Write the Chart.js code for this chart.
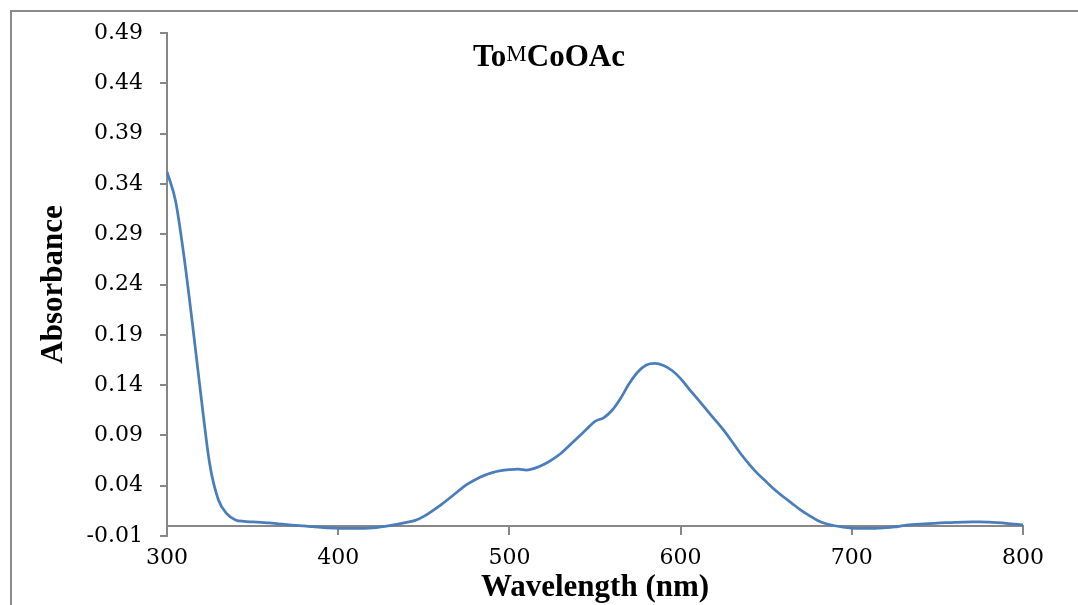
<!DOCTYPE html>
<html>
<head>
<meta charset="utf-8">
<script src="https://cdn.jsdelivr.net/npm/chart.js@4/dist/chart.umd.min.js"></script>
<style>
  html, body { margin: 0; padding: 0; background: #fff; overflow: hidden; }
  canvas { display: block; }
</style>
</head>
<body>
<canvas id="spectrum" width="1078" height="640"></canvas>
<script>
// wavelength (nm) and absorbance
const wavelengths = [
    300, 305, 310, 315, 320, 325, 330, 335, 340, 345,
    350, 355, 360, 365, 370, 375, 380, 385, 390, 395,
    400, 405, 410, 415, 420, 425, 430, 435, 440, 445,
    450, 455, 460, 465, 470, 475, 480, 485, 490, 495,
    500, 505, 510, 515, 520, 525, 530, 535, 540, 545,
    550, 555, 560, 565, 570, 575, 580, 585, 590, 595,
    600, 605, 610, 615, 620, 625, 630, 635, 640, 645,
    650, 655, 660, 665, 670, 675, 680, 685, 690, 695,
    700, 705, 710, 715, 720, 725, 730, 735, 740, 745,
    750, 755, 760, 765, 770, 775, 780, 785, 790, 795,
    800
];
const absorbance = [
    0.352, 0.323, 0.267, 0.199, 0.127, 0.061, 0.026, 0.012, 0.006, 0.0045,
    0.004, 0.0035, 0.003, 0.002, 0.0012, 0.0005, 0.0, -0.0008, -0.0014, -0.002,
    -0.0023, -0.0025, -0.0025, -0.0024, -0.002, -0.001, 0.0003, 0.0018, 0.0035, 0.0055,
    0.0095, 0.015, 0.021, 0.0275, 0.0345, 0.041, 0.046, 0.05, 0.053, 0.055,
    0.056, 0.0565, 0.0556, 0.0575, 0.061, 0.066, 0.072, 0.08, 0.088, 0.096,
    0.104, 0.1075, 0.115, 0.127, 0.1415, 0.153, 0.16, 0.1615, 0.1595, 0.1545,
    0.1465, 0.136, 0.126, 0.1158, 0.1057, 0.0955, 0.084, 0.072, 0.0615, 0.052,
    0.044, 0.036, 0.029, 0.0225, 0.016, 0.0105, 0.0055, 0.0022, 0.0002, -0.0013,
    -0.0022, -0.0025, -0.0025, -0.0022, -0.0018, -0.001, 0.0003, 0.0012, 0.0019, 0.0024,
    0.0028, 0.0032, 0.0035, 0.0038, 0.004, 0.004, 0.0037, 0.0032, 0.0026, 0.0018,
    0.001
];
const xTicks = [300, 400, 500, 600, 700, 800];
const yTicks = [-0.01, 0.04, 0.09, 0.14, 0.19, 0.24, 0.29, 0.34, 0.39, 0.44, 0.49];

const AXIS_GRAY = "#878787";
const TICK_FONT = { family: "'DejaVu Serif', serif", size: 22 };
const TITLE_FONT = { family: "'Liberation Serif', 'Times New Roman', serif", size: 31, weight: "bold" };

// outer frame of the chart (only left and top edges are visible)
const framePlugin = {
    id: "frame",
    beforeDraw(chart) {
        const ctx = chart.ctx;
        ctx.save();
        ctx.strokeStyle = "#8c8c8c";
        ctx.lineWidth = 2;
        ctx.beginPath();
        ctx.moveTo(11, chart.height);
        ctx.lineTo(11, 11);
        ctx.lineTo(chart.width, 11);
        ctx.stroke();
        ctx.restore();
    }
};

// "ToMCoOAc" with superscript M
const titlePlugin = {
    id: "compoundTitle",
    afterDraw(chart) {
        const ctx = chart.ctx;
        ctx.save();
        ctx.fillStyle = "#000";
        ctx.textBaseline = "alphabetic";
        ctx.textAlign = "left";
        let x = 473;
        const base = 66;
        ctx.font = "bold 31px 'Liberation Serif', 'Times New Roman', serif";
        ctx.fillText("To", x, base);
        x += ctx.measureText("To").width;
        ctx.font = "23px 'Liberation Serif', 'Times New Roman', serif";
        ctx.fillText("M", x, base - 5);
        x += ctx.measureText("M").width;
        ctx.font = "bold 31px 'Liberation Serif', 'Times New Roman', serif";
        ctx.fillText("CoOAc", x, base);
        ctx.restore();
    }
};

new Chart(document.getElementById("spectrum"), {
    type: "line",
    data: {
        datasets: [{
            data: wavelengths.map((w, i) => ({ x: w, y: absorbance[i] })),
            borderColor: "#4a7ebb",
            borderWidth: 2.75,
            pointRadius: 0,
            fill: false,
            cubicInterpolationMode: "monotone"
        }]
    },
    options: {
        responsive: false,
        animation: false,
        // the x axis sits at y = 0 and takes no layout room, so reserve it here
        layout: { padding: { top: 33, right: 55, bottom: 104, left: 0 } },
        plugins: {
            legend: { display: false },
            title: { display: false },
            tooltip: { enabled: false }
        },
        scales: {
            x: {
                type: "linear",
                position: { y: 0 },
                min: 300,
                max: 800,
                afterBuildTicks: scale => { scale.ticks = xTicks.map(v => ({ value: v })); },
                afterFit: scale => { scale.height = 81; },
                grid: { drawOnChartArea: false, drawTicks: true, tickLength: 8, color: AXIS_GRAY, lineWidth: 2 },
                border: { display: true, color: AXIS_GRAY, width: 2 },
                ticks: { color: "#000", font: TICK_FONT, padding: 11, maxRotation: 0 },
                title: { display: true, text: "Wavelength (nm)", color: "#000", font: TITLE_FONT, padding: 0 }
            },
            y: {
                type: "linear",
                min: -0.01,
                max: 0.49,
                afterBuildTicks: scale => { scale.ticks = yTicks.map(v => ({ value: v })); },
                afterFit: scale => { scale.width = 167; },
                grid: { drawOnChartArea: false, drawTicks: true, tickLength: 7, color: AXIS_GRAY, lineWidth: 2 },
                border: { display: true, color: AXIS_GRAY, width: 2 },
                ticks: {
                    color: "#000",
                    font: TICK_FONT,
                    padding: 17,
                    callback: v => v.toFixed(2)
                },
                title: { display: true, text: "Absorbance", color: "#000", font: TITLE_FONT, padding: { top: 35, bottom: 0 } }
            }
        }
    },
    plugins: [framePlugin, titlePlugin]
});
</script>
</body>
</html>
